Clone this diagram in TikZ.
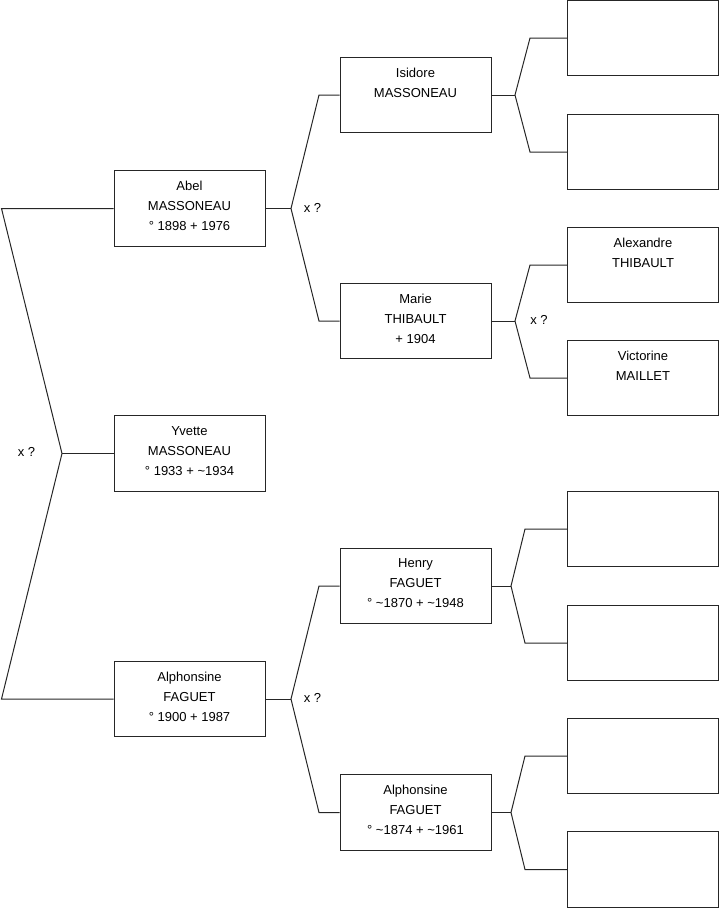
\documentclass[tikz,border=0pt]{standalone}
\usepackage{fontspec}
\setmainfont{Liberation Sans}
\usetikzlibrary{calc}
\tikzset{
  box/.style={draw=black!85, line width=1pt, minimum width=151pt, minimum height=75.5pt, inner sep=0pt, fill=white},
  txt/.style={anchor=north, align=center, inner sep=0pt, font=\fontsize{13}{20}\selectfont, yshift=-10.9pt},
  link/.style={draw=black!85, line width=1pt},
  xq/.style={font=\fontsize{13}{14}\selectfont, inner sep=0pt}
}
\begin{document}
\begin{tikzpicture}[x=1pt,y=-1pt]
\useasboundingbox (0,0) rectangle (719,908);
% column 1
\node[box] (abel) at (189.5,208.5) {};
\node[box] (yvette) at (189.5,453.5) {};
\node[box] (alph1) at (189.5,699) {};
% column 2
\node[box] (isidore) at (415.5,95) {};
\node[box] (marie) at (415.5,321) {};
\node[box] (henry) at (415.5,586) {};
\node[box] (alph2) at (415.5,812.5) {};
% column 3
\node[box] (r1) at (643,38) {};
\node[box] (r2) at (643,152) {};
\node[box] (alex) at (643,265) {};
\node[box] (vict) at (643,378) {};
\node[box] (r5) at (643,529) {};
\node[box] (r6) at (643,643) {};
\node[box] (r7) at (643,756) {};
\node[box] (r8) at (643,869.5) {};
% texts
\node[txt] (tabel) at (abel.north) {Abel\\MASSONEAU\\° 1898 + 1976};
\node[txt] (tyvette) at (yvette.north) {Yvette\\MASSONEAU\\° 1933 + \textasciitilde1934};
\node[txt] (talph1) at (alph1.north) {Alphonsine\\FAGUET\\° 1900 + 1987};
\node[txt] (tisidore) at (isidore.north) {Isidore\\MASSONEAU};
\node[txt] (tmarie) at (marie.north) {Marie\\THIBAULT\\+ 1904};
\node[txt] (thenry) at (henry.north) {Henry\\FAGUET\\° \textasciitilde1870 + \textasciitilde1948};
\node[txt] (talph2) at (alph2.north) {Alphonsine\\FAGUET\\° \textasciitilde1874 + \textasciitilde1961};
\node[txt] (talex) at (alex.north) {Alexandre\\THIBAULT};
\node[txt] (tvict) at (vict.north) {Victorine\\MAILLET};
% fork points
\coordinate (rv) at (62,453.5);
\coordinate (rt) at (1.5,208.5);
\coordinate (rb) at (1.5,699);
\coordinate (av) at (291,208.5);
\coordinate (au) at (319,95);
\coordinate (ad) at (319,321);
\coordinate (fv) at (291,699);
\coordinate (fu) at (319,586);
\coordinate (fd) at (319,812.5);
\coordinate (iv) at (515,95);
\coordinate (iu) at (530,38);
\coordinate (id) at (530,152);
\coordinate (mv) at (515,321);
\coordinate (mu) at (530,265);
\coordinate (md) at (530,378);
\coordinate (hv) at (511,586);
\coordinate (hu) at (525,529);
\coordinate (hd) at (525,643);
\coordinate (pv) at (511,812.5);
\coordinate (pu) at (525,756);
\coordinate (pd) at (525,869.5);
% connectors
\draw[link] (abel.west) -- (rt) -- (rv) -- (rb) -- (alph1.west);
\draw[link] (rv) -- (yvette.west);
\draw[link] (abel.east) -- (av);
\draw[link] (isidore.west) -- (au) -- (av) -- (ad) -- (marie.west);
\draw[link] (alph1.east) -- (fv);
\draw[link] (henry.west) -- (fu) -- (fv) -- (fd) -- (alph2.west);
\draw[link] (isidore.east) -- (iv);
\draw[link] (r1.west) -- (iu) -- (iv) -- (id) -- (r2.west);
\draw[link] (marie.east) -- (mv);
\draw[link] (alex.west) -- (mu) -- (mv) -- (md) -- (vict.west);
\draw[link] (henry.east) -- (hv);
\draw[link] (r5.west) -- (hu) -- (hv) -- (hd) -- (r6.west);
\draw[link] (alph2.east) -- (pv);
\draw[link] (r7.west) -- (pu) -- (pv) -- (pd) -- (r8.west);
% labels
\node[xq] (x1) at (26.5,452) {x ?};
\node[xq] (x2) at (312.5,207.5) {x ?};
\node[xq] (x3) at (539,320) {x ?};
\node[xq] (x4) at (312.5,698) {x ?};
\end{tikzpicture}
\end{document}
